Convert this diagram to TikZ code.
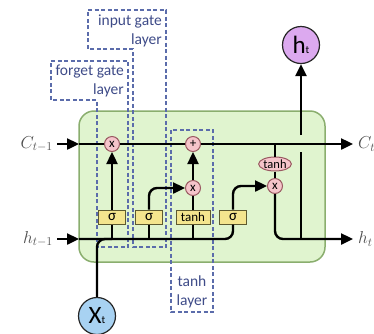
\documentclass[tikz,border=0pt]{standalone}
\usepackage{fontspec}
\setmainfont{Carlito}
\usepackage{tikz}
\usetikzlibrary{arrows.meta,positioning,shapes.geometric}
\definecolor{cellgreen}{HTML}{E0F4CF}
\definecolor{celledge}{HTML}{8AAE6E}
\definecolor{opfill}{HTML}{F5C4CA}
\definecolor{opedge}{HTML}{9A5A62}
\definecolor{layfill}{HTML}{F4E58E}
\definecolor{layedge}{HTML}{5E5A30}
\definecolor{gateblue}{HTML}{5B6CAB}
\definecolor{gatetext}{HTML}{3E4B88}
\definecolor{hfill}{HTML}{DCA9EF}
\definecolor{xfill}{HTML}{A8D2F2}
\definecolor{muted}{HTML}{4D4D4D}

\begin{document}
\begin{tikzpicture}[x=1pt,y=-1pt,>={Triangle[length=12pt,width=11pt]},
  flow/.style={line width=2.4pt,black},
  op/.style={circle,draw=opedge,fill=opfill,line width=1pt,minimum size=15pt,inner sep=0pt,font=\fontsize{13}{13}\selectfont},
  layer/.style={rectangle,draw=layedge,fill=layfill,line width=1pt,minimum height=14pt,minimum width=27pt,inner sep=0.5pt,font=\fontsize{15}{15}\selectfont},
  gatebox/.style={draw=gateblue,line width=1.2pt,dash pattern=on 4pt off 2.5pt},
  gatelbl/.style={text=gatetext,align=right,font=\fontsize{15.5}{18.5}\selectfont,inner sep=0pt},
  vec/.style={circle,draw=black!85,line width=1.2pt,minimum size=37pt,inner sep=0pt},
  lbl/.style={text=muted,inner sep=0pt,font=\fontsize{17}{17}\selectfont}]
\useasboundingbox (0,0) rectangle (374,333);
\clip (0,0) rectangle (374,333);
% cell body and gate outlines
\draw[fill=cellgreen,draw=celledge,line width=1.5pt,rounded corners=15pt] (79,111) rectangle (325,262);
\draw[gatebox] (51,61) -- (128,61) -- (128,247) -- (97,247) -- (97,100) -- (51,100) -- cycle;
\draw[gatebox] (88,10) -- (166,10) -- (166,247) -- (133,247) -- (133,49) -- (88,49) -- cycle;
\draw[gatebox] (171,130) rectangle (213,312);
\node[gatelbl,anchor=east] (fgl) at (124,81) {forget gate\\layer};
\node[gatelbl,anchor=east] (igl) at (162,31) {input gate\\layer};
\node[gatelbl,align=center] (tl) at (192,292) {tanh\\layer};

\node[op] (fx) at (112,144) {x};
\node[op] (ax) at (193,144) {+};
\node[op] (ix) at (193,188) {x};
\node[op] (ox) at (275,186) {x};
\node[op,ellipse,minimum width=31pt,minimum height=14pt,font=\fontsize{12.5}{12.5}\selectfont] (tc) at (275,164) {tanh};
\node[layer] (s1) at (112,217) {σ};
\node[layer] (s2) at (149,217) {σ};
\node[layer,minimum width=34pt,font=\fontsize{13}{13}\selectfont] (s3) at (193,217) {tanh};
\node[layer] (s4) at (233,217) {σ};
\node[vec,fill=hfill] (ht) at (301,45) {\fontsize{25}{25}\selectfont h{\fontsize{11}{11}\selectfont t}};
\node[vec,fill=xfill] (xt) at (97,316) {\fontsize{25}{25}\selectfont X{\fontsize{11}{11}\selectfont t}};

\coordinate (cin) at (57,144); \coordinate (cleft) at (79,144); \coordinate (cout) at (353,144);
\coordinate (hin) at (57,239); \coordinate (hleft) at (79,239); \coordinate (hout) at (353,239);
\coordinate (cj) at (275,144); \coordinate (hj) at (301,239);
\coordinate (gaplo) at (301,152); \coordinate (gaphi) at (301,135);
\node[lbl,left=4pt of cin] (cprev) {$C_{t-1}$};
\node[lbl,left=4pt of hin] (hprev) {$h_{t-1}$};
\node[lbl,right=5pt of cout] (cnext) {$C_t$};
\node[lbl,right=5pt of hout] (hnext) {$h_t$};

% cell state and hidden state
\draw[flow,->] (cin) -- (cleft);
\draw[flow,->] (cleft) -- (fx) -- (ax) -- (cout);
\draw[flow,->] (hin) -- (hleft);
\draw[flow,rounded corners=8pt] (hleft) -| (s4);
\draw[flow,rounded corners=8pt] (xt) |- (s1.south |- hleft);
\draw[flow] (s1 |- hleft) -- (s1); \draw[flow] (s2 |- hleft) -- (s2); \draw[flow] (s3 |- hleft) -- (s3);
% gates
\draw[flow,->] (s1) -- (fx);
\draw[flow,->,rounded corners=8pt] (s2) |- (ix);
\draw[flow] (s3) -- (ix);
\draw[flow,->] (ix) -- (ax);
\draw[flow,->,rounded corners=8pt] (s4) |- (ox);
\draw[flow] (cj) -- (tc); \draw[flow] (tc) -- (ox);
\draw[flow,->,rounded corners=8pt] (ox) |- (hout);
\draw[flow] (hj) -- (gaplo);
\draw[flow,->] (gaphi) -- (ht);
\end{tikzpicture}
\end{document}
